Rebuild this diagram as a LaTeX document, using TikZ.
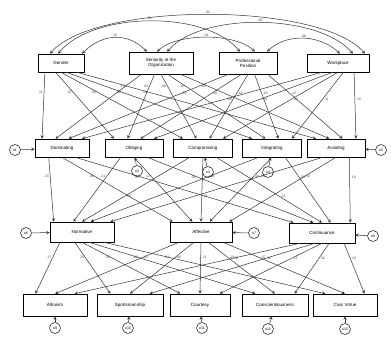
\documentclass[tikz,border=0pt]{standalone}
\usepackage{fontspec}
\setmainfont{Liberation Sans}
\begin{document}
\begin{tikzpicture}[>=stealth, x=1pt, y=1pt, line join=round,
    var/.style={draw, line width=.6pt, minimum height=18pt, inner sep=1pt, align=center, font=\fontsize{4.5}{5}\selectfont},
    err/.style={draw, circle, line width=.5pt, minimum size=11pt, inner sep=0pt, font=\fontsize{3.5}{4}\selectfont},
    reg/.style={->, line width=.5pt, black!80},
    cov/.style={<->, line width=.5pt, black!80},
    coef/.style={font=\fontsize{3.5}{4}\selectfont, inner sep=1pt, text=black!70}]
  \useasboundingbox (0,0) rectangle (391,-337);
  % demographic variables
  \node[var, minimum width=46pt] (gen) at (61,-63) {Gender};
  \node[var, minimum width=64pt, minimum height=22pt] (sen) at (161,-63) {Seniority at the\\Organization};
  \node[var, minimum width=58pt, minimum height=22pt] (pro) at (248,-63) {Professional\\Position};
  \node[var, minimum width=62pt] (wor) at (338,-63) {Workplace};
  % conflict handling styles
  \node[var, minimum width=54pt] (dom) at (62,-148) {Dominating};
  \node[var, minimum width=58pt] (obl) at (134,-148) {Obliging};
  \node[var, minimum width=59pt] (com) at (203,-148) {Compromising};
  \node[var, minimum width=59pt] (itg) at (272,-148) {Integrating};
  \node[var, minimum width=58pt] (avo) at (336,-148) {Avoiding};
  % commitment
  \node[var, minimum width=64pt, minimum height=20pt] (nor) at (82,-232) {Normative};
  \node[var, minimum width=62pt, minimum height=20pt] (aff) at (201,-232) {Affective};
  \node[var, minimum width=66pt, minimum height=20pt] (con) at (322,-233) {Continuance};
  % citizenship behaviour
  \node[var, minimum width=64pt, minimum height=22pt] (alt) at (55,-305) {Altruism};
  \node[var, minimum width=66pt, minimum height=22pt] (spo) at (130,-305) {Sportsmanship};
  \node[var, minimum width=60pt, minimum height=22pt] (cou) at (200,-305) {Courtesy};
  \node[var, minimum width=66pt, minimum height=22pt] (csc) at (275,-305) {Conscientiousness};
  \node[var, minimum width=64pt, minimum height=22pt] (civ) at (345,-305) {Civic Virtue};
  % errors
  \node[err] (e1) at (15,-150) {e1};
  \node[err] (e2) at (137,-171) {e2};
  \node[err] (e3) at (208,-172) {e3};
  \node[err] (e4) at (268,-172) {e4};
  \node[err] (e5) at (381,-150) {e5};
  \node[err] (e6) at (26,-233) {e6};
  \node[err] (e7) at (254,-233) {e7};
  \node[err] (e8) at (373,-236) {e8};
  \node[err] (e9) at (55,-328) {e9};
  \node[err] (e10) at (128,-328) {e10};
  \node[err] (e11) at (202,-328) {e11};
  \node[err] (e12) at (268,-329) {e12};
  \node[err] (e13) at (345,-329) {e13};
  \draw[reg] (e1) -- (dom);
  \draw[reg] (e2) -- (obl);
  \draw[reg] (e3) -- (com);
  \draw[reg] (e4) -- (itg);
  \draw[reg] (e5) -- (avo);
  \draw[reg] (e6) -- (nor);
  \draw[reg] (e7) -- (aff);
  \draw[reg] (e8) -- (con);
  \foreach \e/\t in {e9/alt, e10/spo, e11/cou, e12/csc, e13/civ}
    \draw[reg] (\e) -- (\t);
  % covariances
  \draw[cov] ([xshift=-11pt]gen.north) .. controls +(45,52) and +(-45,52) .. ([xshift=27pt]wor.north) node[coef, midway, above] {.04};
  \draw[cov] ([xshift=-3pt]gen.north) .. controls +(35,42) and +(-35,42) .. ([xshift=-8pt]pro.north) node[coef, midway, above] {.13};
  \draw[cov] ([xshift=6pt]sen.north) .. controls +(35,40) and +(-35,40) .. ([xshift=15pt]wor.north) node[coef, midway, above] {.09};
  \draw[cov] ([xshift=21pt]gen.north) .. controls +(20,20) and +(-20,20) .. ([xshift=-14pt]sen.north) node[coef, midway, above] {.16};
  \draw[cov] ([xshift=-4pt]sen.north) .. controls +(20,19) and +(-20,19) .. ([xshift=7pt]pro.north) node[coef, midway, above] {.03};
  \draw[cov] ([xshift=19pt]pro.north) .. controls +(20,19) and +(-20,19) .. ([xshift=2pt]wor.north) node[coef, midway, above] {.08};
  % demographics -> styles
  \foreach \t/\b/\v in {dom/-150/.11, obl/-120/.07, com/-90/.05, itg/-60/.09, avo/-30/.04}
    \draw[reg] (gen.\b) -- node[coef, pos=.3, left] {\v} (\t.155);
  \foreach \t/\b/\v in {dom/-150/.13, obl/-120/.02, com/-90/.08, itg/-60/.16, avo/-30/.06}
    \draw[reg] (sen.\b) -- node[coef, pos=.18, left] {\v} (\t.125);
  \foreach \t/\b/\v in {dom/-150/.05, obl/-120/.10, com/-90/.14, itg/-60/.03, avo/-30/.12}
    \draw[reg] (pro.\b) -- node[coef, pos=.3, right] {\v} (\t.55);
  \foreach \t/\b/\v in {dom/-150/.08, obl/-120/.06, com/-90/.04, itg/-60/.11, avo/-30/.15}
    \draw[reg] (wor.\b) -- node[coef, pos=.4, right] {\v} (\t.25);
  % styles -> commitment
  \foreach \t/\b/\v in {nor/-145/.15, aff/-90/.09, con/-35/.07}
    \draw[reg] (dom.\b) -- node[coef, pos=.3, left] {\v} (\t.160);
  \foreach \t/\b/\v in {nor/-145/.21, aff/-90/.12, con/-35/.05}
    \draw[reg] (obl.\b) -- node[coef, pos=.3, left] {\v} (\t.130);
  \foreach \t/\b/\v in {nor/-145/.06, aff/-90/.41, con/-35/.11}
    \draw[reg] (com.\b) -- node[coef, pos=.6, right] {\v} (\t.90);
  \foreach \t/\b/\v in {nor/-145/.18, aff/-90/.23, con/-35/.08}
    \draw[reg] (itg.\b) -- node[coef, pos=.3, right] {\v} (\t.50);
  \foreach \t/\b/\v in {nor/-145/.04, aff/-90/.10, con/-35/.19}
    \draw[reg] (avo.\b) -- node[coef, pos=.3, right] {\v} (\t.20);
  % commitment -> citizenship
  \foreach \t/\b/\v in {alt/-155/.17, spo/-125/.25, cou/-90/.09, csc/-55/.06, civ/-25/.12}
    \draw[reg] (nor.\b) -- node[coef, pos=.3, left] {\v} (\t.150);
  \foreach \t/\b/\v in {alt/-155/.14, spo/-125/.08, cou/-90/.21, csc/-55/.19, civ/-25/.07}
    \draw[reg] (aff.\b) -- node[coef, pos=.3, right] {\v} (\t.90);
  \foreach \t/\b/\v in {alt/-155/.05, spo/-125/.11, cou/-90/.13, csc/-55/.16, civ/-25/.22}
    \draw[reg] (con.\b) -- node[coef, pos=.3, right] {\v} (\t.30);
\end{tikzpicture}
\end{document}
